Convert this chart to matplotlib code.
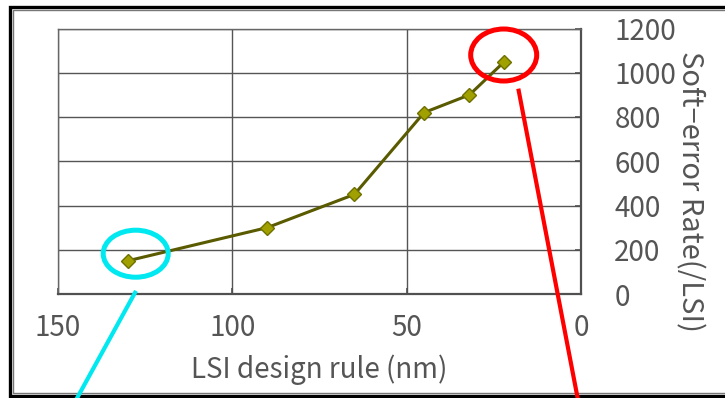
import matplotlib
matplotlib.use("Agg")
from matplotlib import pyplot as plt
from matplotlib.lines import Line2D
from matplotlib.patches import Ellipse

# data
design_rule = [130, 90, 65, 45, 32, 22]
soft_error_rate = [150, 300, 450, 820, 900, 1050]
x_ticks = [150, 100, 50, 0]
y_ticks = [0, 200, 400, 600, 800, 1000, 1200]

W, H = 725, 398
TEXT = "#555555"

plt.rcParams["font.family"] = ["Noto Sans CJK JP", "DejaVu Sans"]

fig = plt.figure(figsize=(W / 100, H / 100), dpi=100)
fig.patch.set_facecolor("white")


def fx(x):
    return x / W


def fy(y):
    return 1 - y / H


ax = fig.add_axes([fx(58), fy(294), fx(581) - fx(58), fy(28.5) - fy(294)])

ax.plot(design_rule, soft_error_rate, color="#5a5a00", lw=2.2,
        marker="D", ms=7.5, mfc="#a0a000", mec="#707000", mew=1, zorder=3)

ax.set_xlim(150, 0)
ax.set_ylim(0, 1200)
ax.set_xticks(x_ticks)
ax.set_yticks(y_ticks)
ax.yaxis.tick_right()
ax.yaxis.set_label_position("right")
ax.grid(True, color="#555555", lw=1)
ax.set_axisbelow(True)

for side in ["top", "left"]:
    ax.spines[side].set_color("#666666")
    ax.spines[side].set_linewidth(1)
for side in ["bottom", "right"]:
    ax.spines[side].set_color("#505050")
    ax.spines[side].set_linewidth(1.6)

ax.tick_params(axis="x", direction="in", length=4, width=1.2, color="#505050",
               pad=14, labelsize=20, labelcolor=TEXT)
ax.tick_params(axis="y", direction="in", length=4, width=1.2, color="#505050",
               pad=24, labelsize=20, labelcolor=TEXT)
for lab in ax.get_yticklabels():
    lab.set_horizontalalignment("left")

ax.set_xlabel("LSI design rule (nm)", fontsize=20, color=TEXT, labelpad=8)
ax.set_ylabel("Soft\u2212error Rate(/LSI)", fontsize=21, color=TEXT,
              rotation=270, va="center", ha="center")
ax.yaxis.set_label_coords((690 - 58) / 523, (294 - 191) / 265.5)

# highlight circles and pointer lines
fig.add_artist(Ellipse((fx(135.7), fy(253.7)), 65 / W, 47 / H, fill=False,
                       ec="#00e8f0", lw=3.6, zorder=5))
fig.add_artist(Ellipse((fx(503.7), fy(55)), 66 / W, 52 / H, fill=False,
                       ec="#ff0000", lw=3.6, zorder=5))
fig.add_artist(Line2D([fx(135), fx(76)], [fy(292.7), fy(400)], color="#00e8f0",
                      lw=3, zorder=5))
fig.add_artist(Line2D([fx(518.7), fx(578)], [fy(90.7), fy(400)], color="#ff0000",
                      lw=3, zorder=5))

# double frame around the picture
fig.add_artist(Line2D([fx(730), fx(9.5), fx(9.5), fx(730)],
                      [fy(6.5), fy(6.5), fy(396), fy(396)],
                      color="black", lw=2.4, solid_joinstyle="miter"))
fig.add_artist(Line2D([fx(730), fx(12.5), fx(12.5), fx(730)],
                      [fy(10), fy(10), fy(393), fy(393)],
                      color="#777777", lw=1, solid_joinstyle="miter"))

fig.savefig("out.png", dpi=100)
